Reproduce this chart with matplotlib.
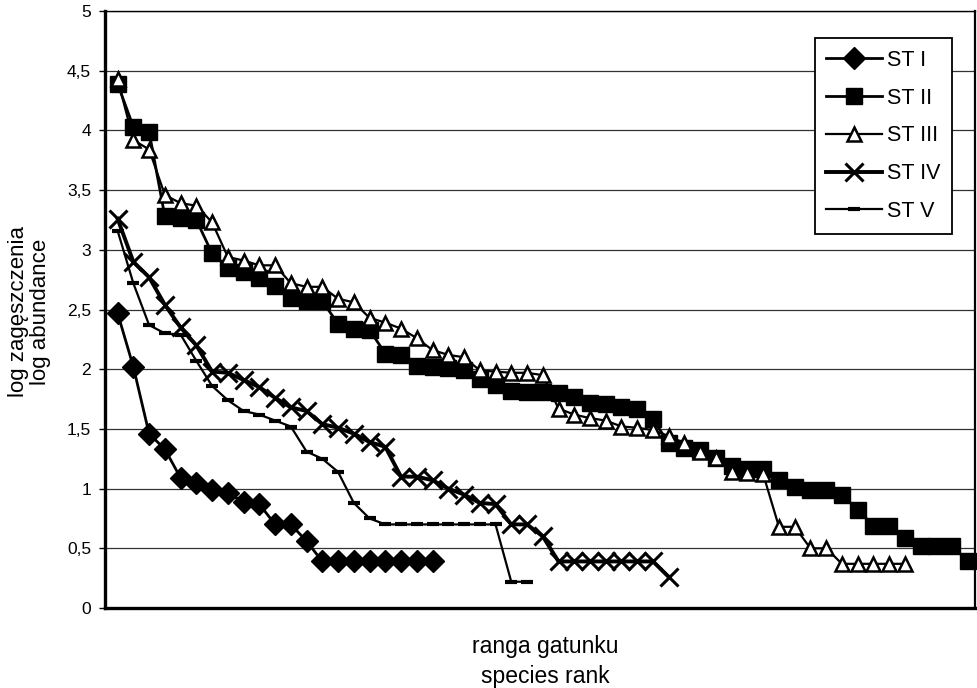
import numpy as np
import matplotlib
matplotlib.use("Agg")
import matplotlib.pyplot as plt

# ----- data (log abundance by species rank) -----
st1 = [2.47, 2.02, 1.46, 1.33, 1.09, 1.05, 0.99, 0.96, 0.89, 0.87,
       0.70, 0.70, 0.56, 0.39, 0.39, 0.39, 0.39, 0.39, 0.39, 0.39, 0.39]
st2 = [4.39, 4.03, 3.99, 3.28, 3.27, 3.25, 2.97, 2.85, 2.81, 2.76,
       2.70, 2.60, 2.57, 2.57, 2.38, 2.34, 2.33, 2.13, 2.12, 2.03,
       2.02, 2.01, 1.99, 1.92, 1.87, 1.82, 1.81, 1.81, 1.80, 1.77,
       1.72, 1.71, 1.68, 1.67, 1.58, 1.38, 1.34, 1.32, 1.26, 1.19,
       1.16, 1.16, 1.07, 1.01, 0.99, 0.99, 0.95, 0.82, 0.69, 0.69,
       0.59, 0.52, 0.52, 0.52, 0.39]
st3 = [4.43, 3.92, 3.84, 3.46, 3.39, 3.37, 3.23, 2.94, 2.91, 2.87,
       2.87, 2.72, 2.69, 2.69, 2.59, 2.56, 2.43, 2.39, 2.34, 2.26,
       2.16, 2.12, 2.10, 1.99, 1.98, 1.97, 1.97, 1.95, 1.67, 1.62,
       1.59, 1.57, 1.52, 1.51, 1.49, 1.44, 1.38, 1.31, 1.26, 1.14,
       1.13, 1.12, 0.68, 0.68, 0.50, 0.50, 0.37, 0.37, 0.37, 0.37, 0.37]
st4 = [3.26, 2.90, 2.77, 2.54, 2.35, 2.20, 1.98, 1.97, 1.91, 1.85,
       1.76, 1.68, 1.65, 1.54, 1.51, 1.46, 1.39, 1.35, 1.10, 1.10,
       1.07, 1.00, 0.95, 0.88, 0.87, 0.70, 0.70, 0.60, 0.39, 0.39,
       0.39, 0.39, 0.39, 0.39, 0.39, 0.26]
st5 = [3.16, 2.72, 2.37, 2.30, 2.29, 2.07, 1.86, 1.74, 1.65, 1.62,
       1.57, 1.52, 1.31, 1.25, 1.14, 0.88, 0.75, 0.70, 0.70, 0.70,
       0.70, 0.70, 0.70, 0.70, 0.70, 0.22, 0.22]

series_labels = ["ST I", "ST II", "ST III", "ST IV", "ST V"]
y_ticks = [0, 0.5, 1, 1.5, 2, 2.5, 3, 3.5, 4, 4.5, 5]
y_tick_labels = ["0", "0,5", "1", "1,5", "2", "2,5", "3", "3,5", "4", "4,5", "5"]
n_ranks = 55

plt.rcParams["font.family"] = ["Liberation Sans", "DejaVu Sans"]

fig = plt.figure(figsize=(9.78, 6.88), dpi=100)
ax = fig.add_axes([105 / 978, 1 - 608 / 688, 870 / 978, 597 / 688])

styles = [
    dict(marker="D", ms=11, mfc="black", mec="black", lw=2.0),
    dict(marker="s", ms=12, mfc="black", mec="black", lw=2.0),
    dict(marker="^", ms=10.5, mfc="white", mec="black", mew=1.8, lw=1.6),
    dict(marker="x", ms=13, mec="black", mew=2.2, lw=2.8),
    dict(marker="_", ms=9, mec="black", mew=3.0, lw=1.6),
]

for i, (vals, lab, st) in enumerate(zip([st1, st2, st3, st4, st5], series_labels, styles)):
    x = np.arange(1, len(vals) + 1)
    ax.plot(x, vals, color="black", label=lab, zorder=3 + i, clip_on=False, **st)

ax.set_xlim(0.2, n_ranks + 0.45)
ax.set_ylim(0, 5)
ax.set_xticks([])
ax.set_yticks(y_ticks)
ax.set_yticklabels(y_tick_labels)
ax.tick_params(axis="y", direction="out", length=4, width=1, labelsize=12.5, pad=6)
ax.yaxis.grid(True, color="#333333", lw=0.9)
ax.set_axisbelow(True)

ax.spines["left"].set_linewidth(2.4)
ax.spines["bottom"].set_linewidth(2.4)
ax.spines["right"].set_linewidth(1.6)
ax.spines["top"].set_linewidth(1.0)

leg = ax.legend(loc="upper right", bbox_to_anchor=((952 - 105) / 870, (608 - 38) / 597),
                borderaxespad=0, fontsize=15.5, handlelength=2.6, handletextpad=0.2,
                labelspacing=0.78, borderpad=0.55, fancybox=False, framealpha=1)
leg.get_frame().set_edgecolor("black")
leg.get_frame().set_linewidth(1.3)

fig.text(19 / 978, 1 - 312 / 688, "log zagęszczenia", rotation=90,
         ha="center", va="center", fontsize=16)
fig.text(41 / 978, 1 - 312 / 688, "log abundance", rotation=90,
         ha="center", va="center", fontsize=16)
fig.text(545 / 978, 1 - 646 / 688, "ranga gatunku", ha="center", va="center", fontsize=16.5)
fig.text(545 / 978, 1 - 676 / 688, "species rank", ha="center", va="center", fontsize=16.5)

fig.savefig("out.png", dpi=100)
